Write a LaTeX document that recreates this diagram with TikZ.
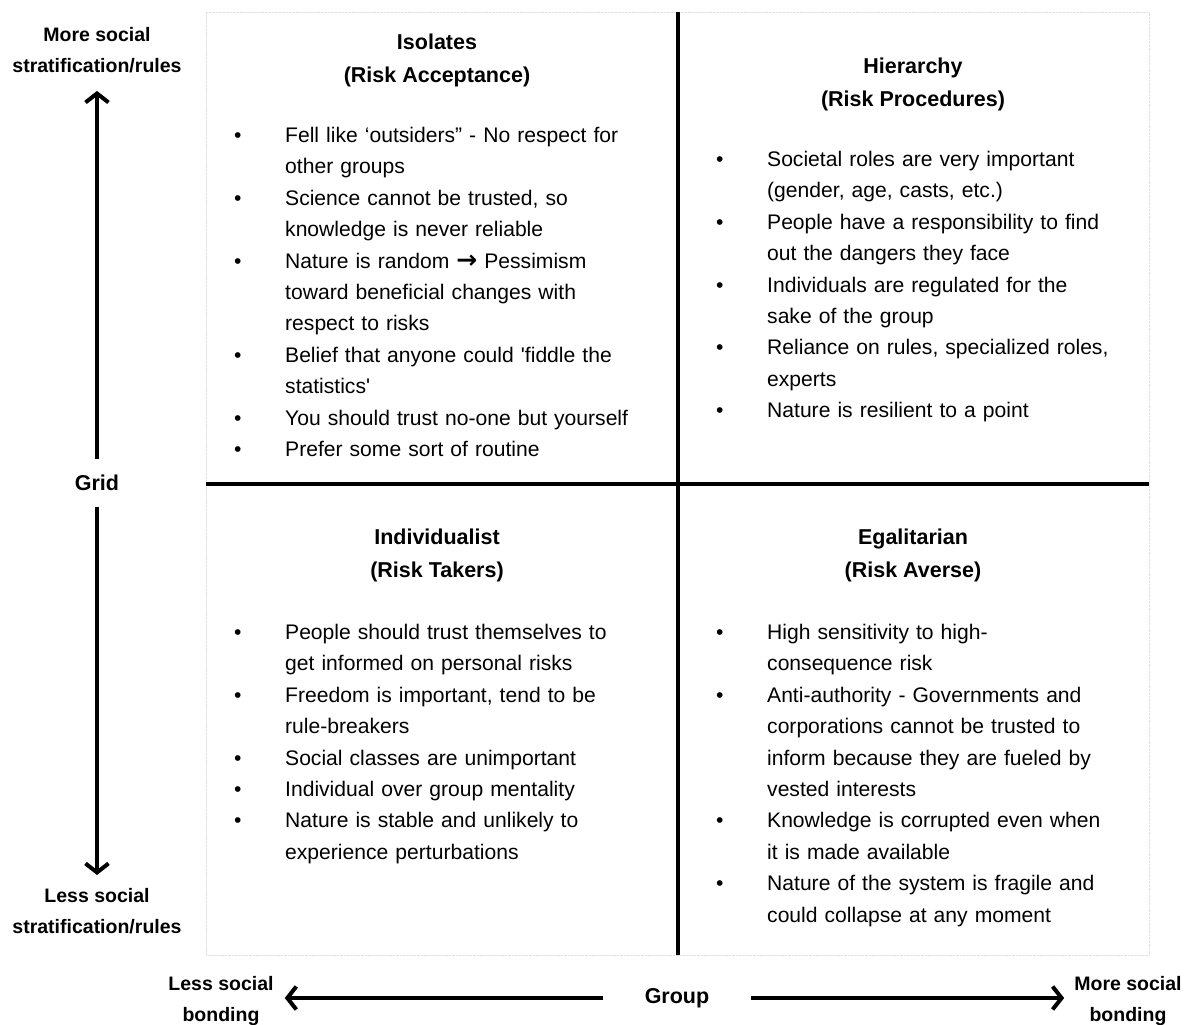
\documentclass[tikz,border=0pt]{standalone}
\usepackage{fontspec}
\setmainfont{Liberation Sans}
\usetikzlibrary{arrows.meta,positioning}

\newcommand{\qitem}[1]{\noindent\hangindent=51pt\hangafter=1\makebox[51pt][l]{\textbullet}#1\par}

\begin{document}
\begin{tikzpicture}[x=1pt,y=-1pt,
  axis/.style={line width=4pt,-{Straight Barb[length=9pt,width=23pt]}},
  divider/.style={line width=4pt},
  head/.style={font=\fontsize{21.5}{33}\selectfont\bfseries,align=center,inner sep=0pt,anchor=north},
  side/.style={font=\fontsize{19.5}{31}\selectfont\bfseries,align=center,inner sep=0pt},
  items/.style={font=\fontsize{21.1}{31.4}\selectfont,text width=440pt,align=left,inner sep=0pt,anchor=north west}]
\useasboundingbox (0,0) rectangle (1187,1025);
% frame and the two dividing lines
\draw[gray!25,densely dotted] (206,12) rectangle (1149,955);
\draw[divider] (678,12) -- (678,955);
\draw[divider] (206,484) -- (1149,484);

% quadrant titles
\node (iso) at (437,34) [head] {Isolates\\(Risk Acceptance)};
\node (hier) at (913,58) [head] {Hierarchy\\(Risk Procedures)};
\node (ind) at (437,529) [head] {Individualist\\(Risk Takers)};
\node (ega) at (913,529) [head] {Egalitarian\\(Risk Averse)};

% quadrant lists
\node (iso_l) at (234,127) [items] {%
\qitem{Fell like ‘outsiders” - No respect for\newline other groups}
\qitem{Science cannot be trusted, so\newline knowledge is never reliable}
\qitem{Nature is random {\fontspec{DejaVu Sans}\bfseries\fontsize{25}{31.4}\selectfont →} Pessimism\newline toward beneficial changes with\newline respect to risks}
\qitem{Belief that anyone could \textquotesingle fiddle the\newline statistics\textquotesingle}
\qitem{You should trust no-one but yourself}
\qitem{Prefer some sort of routine}};
\node (hier_l) at (716,151) [items,text width=430pt] {%
\qitem{Societal roles are very important\newline (gender, age, casts, etc.)}
\qitem{People have a responsibility to find\newline out the dangers they face}
\qitem{Individuals are regulated for the\newline sake of the group}
\qitem{Reliance on rules, specialized roles,\newline experts}
\qitem{Nature is resilient to a point}};
\node (ind_l) at (234,624) [items] {%
\qitem{People should trust themselves to\newline get informed on personal risks}
\qitem{Freedom is important, tend to be\newline rule-breakers}
\qitem{Social classes are unimportant}
\qitem{Individual over group mentality}
\qitem{Nature is stable and unlikely to\newline experience perturbations}};
\node (ega_l) at (716,624) [items,text width=430pt] {%
\qitem{High sensitivity to high-\newline consequence risk}
\qitem{Anti-authority - Governments and\newline corporations cannot be trusted to\newline inform because they are fueled by\newline vested interests}
\qitem{Knowledge is corrupted even when\newline it is made available}
\qitem{Nature of the system is fragile and\newline could collapse at any moment}};

% axes
\node (grid) at (97,483) [side,font=\fontsize{21.5}{31}\selectfont\bfseries,minimum height=47pt] {Grid};
\node (group) at (677,998) [side,font=\fontsize{21.5}{31}\selectfont\bfseries,minimum width=147pt] {Group};
\node (moreStrat) at (97,27) [side,anchor=north] {More social\\stratification/rules};
\node (lessStrat) at (97,888) [side,anchor=north] {Less social\\stratification/rules};
\node (lessBond) at (221,976) [side,anchor=north] {Less social\\bonding};
\node (moreBond) at (1128,976) [side,anchor=north] {More social\\bonding};

\draw[axis,shorten >=18pt] (grid.north) -- (grid.north |- moreStrat.south);
\draw[axis,shorten >=13pt] (grid.south) -- (grid.south |- lessStrat.north);
\draw[axis,shorten >=11pt] (group.west) -- (group.west -| lessBond.east);
\draw[axis,shorten >=10pt] (group.east) -- (group.east -| moreBond.west);
\end{tikzpicture}
\end{document}
